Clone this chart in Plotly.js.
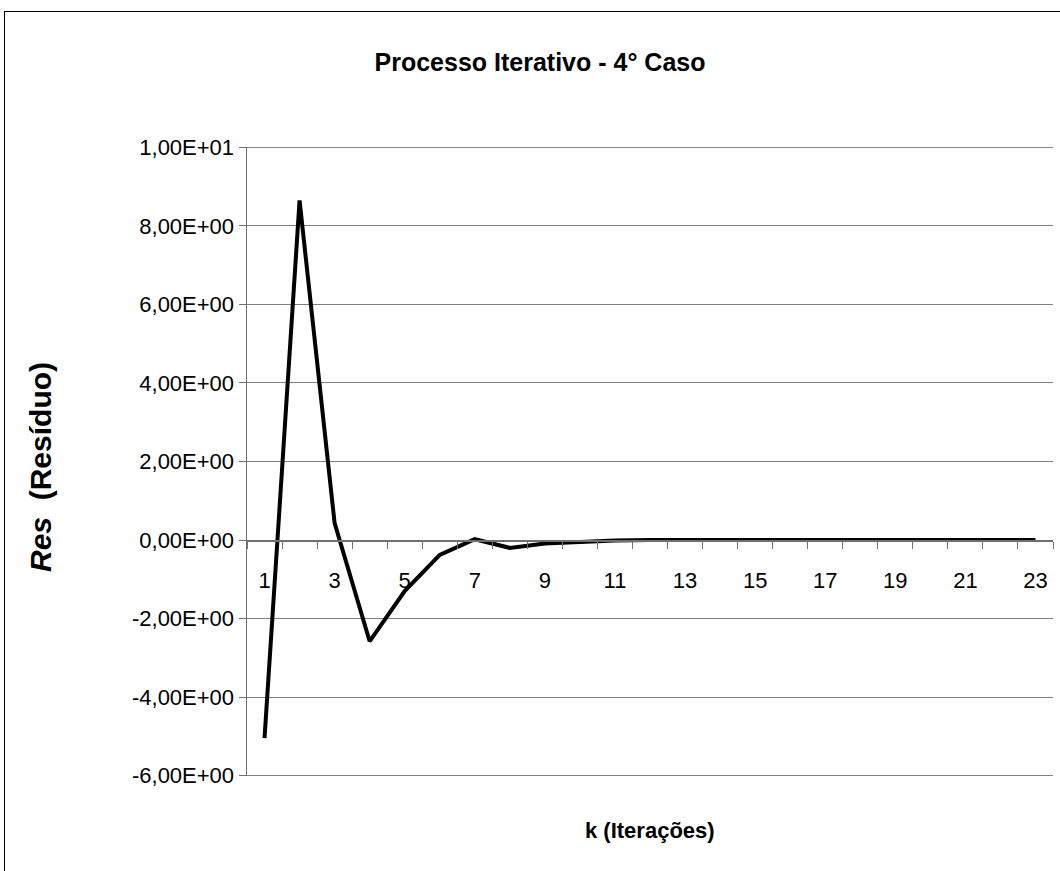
<!DOCTYPE html>
<html>
<head>
<meta charset="utf-8">
<script src="https://cdn.plot.ly/plotly-3.0.1.min.js"></script>
<style>
  html, body { margin: 0; padding: 0; background: #fff; overflow: hidden; }
  #wrap { position: relative; width: 1060px; height: 871px; }
  #chart { position: absolute; left: 0; top: 0; width: 1060px; height: 871px; }
  #frame { position: absolute; left: 4px; top: 11px; width: 1200px; height: 1000px; border: 1px solid #000; pointer-events: none; }
</style>
</head>
<body>
<div id="wrap">
  <div id="chart"></div>
  <div id="frame"></div>
</div>
<script>
// Data
const iterations = ['1','2','3','4','5','6','7','8','9','10','11','12','13','14','15','16','17','18','19','20','21','22','23'];
const residuals = [-5.05, 8.65, 0.43, -2.58, -1.3, -0.38, 0.02, -0.2, -0.09, -0.04, -0.01, 0, 0, 0, 0, 0, 0, 0, 0, 0, 0, 0, 0];
const xTickText = ['1','','3','','5','','7','','9','','11','','13','','15','','17','','19','','21','','23'];
const yTickVals = [-6, -4, -2, 0, 2, 4, 6, 8, 10];
const yTickText = ['-6,00E+00','-4,00E+00','-2,00E+00','0,00E+00','2,00E+00','4,00E+00','6,00E+00','8,00E+00','1,00E+01'];

const yMin = -6, yMax = 10;
const pad = 0.012;
const FONT = 'Liberation Sans, Arial, sans-serif';

const trace = {
  x: iterations,
  y: residuals,
  type: 'scatter',
  mode: 'lines',
  line: { color: '#000', width: 4 },
  hoverinfo: 'skip',
  showlegend: false
};

const edgeGrid = [yMin, yMax].map(v => ({
  type: 'line', xref: 'paper', yref: 'y',
  x0: 0, x1: 1, y0: v, y1: v,
  line: { color: '#808080', width: 1 },
  layer: 'below'
}));

const layout = {
  width: 1060,
  height: 871,
  margin: { l: 247, r: 7, t: 147, b: 95 },
  paper_bgcolor: '#fff',
  plot_bgcolor: '#fff',
  font: { family: FONT, color: '#000', size: 22 },
  title: {
    text: '<b>Processo Iterativo - 4° Caso</b>',
    font: { family: FONT, size: 25, color: '#000' },
    xref: 'container', x: 540 / 1060, xanchor: 'center',
    yref: 'container', y: 1 - 62 / 871, yanchor: 'middle'
  },
  shapes: edgeGrid,
  xaxis: {
    type: 'category',
    anchor: 'free',
    position: (0 - (yMin - pad)) / ((yMax + pad) - (yMin - pad)),
    tickmode: 'array',
    tickvals: iterations,
    ticktext: xTickText,
    tickson: 'boundaries',
    ticks: 'outside',
    ticklen: 7,
    tickwidth: 1,
    tickcolor: '#6f6f6f',
    showline: true,
    linecolor: '#6f6f6f',
    linewidth: 1.5,
    showgrid: false,
    zeroline: false,
    ticklabelstandoff: 20,
    tickfont: { family: FONT, size: 22, color: '#000' },
    range: [-0.5, 22.5],
    fixedrange: true
  },
  yaxis: {
    range: [yMin - pad, yMax + pad],
    tickmode: 'array',
    tickvals: yTickVals,
    ticktext: yTickText,
    ticks: 'outside',
    ticklen: 7,
    tickcolor: '#6f6f6f',
    showline: true,
    linecolor: '#6f6f6f',
    linewidth: 1.5,
    showgrid: true,
    gridcolor: '#808080',
    gridwidth: 1,
    zeroline: false,
    tickfont: { family: FONT, size: 22, color: '#000' },
    fixedrange: true
  },
  annotations: [
    {
      text: '<b><i>Res</i>  (Resíduo)</b>',
      xref: 'paper', yref: 'paper',
      x: (40 - 247) / 806, y: (776 - 467) / 629,
      xanchor: 'center', yanchor: 'middle',
      textangle: -90,
      showarrow: false,
      font: { family: FONT, size: 30, color: '#000' }
    },
    {
      text: '<b>k (Iterações)</b>',
      xref: 'paper', yref: 'paper',
      x: 0.5, y: (776 - 830) / 629,
      xanchor: 'center', yanchor: 'middle',
      showarrow: false,
      font: { family: FONT, size: 22, color: '#000' }
    }
  ]
};

Plotly.newPlot('chart', [trace], layout, { staticPlot: true, displayModeBar: false });
</script>
</body>
</html>
